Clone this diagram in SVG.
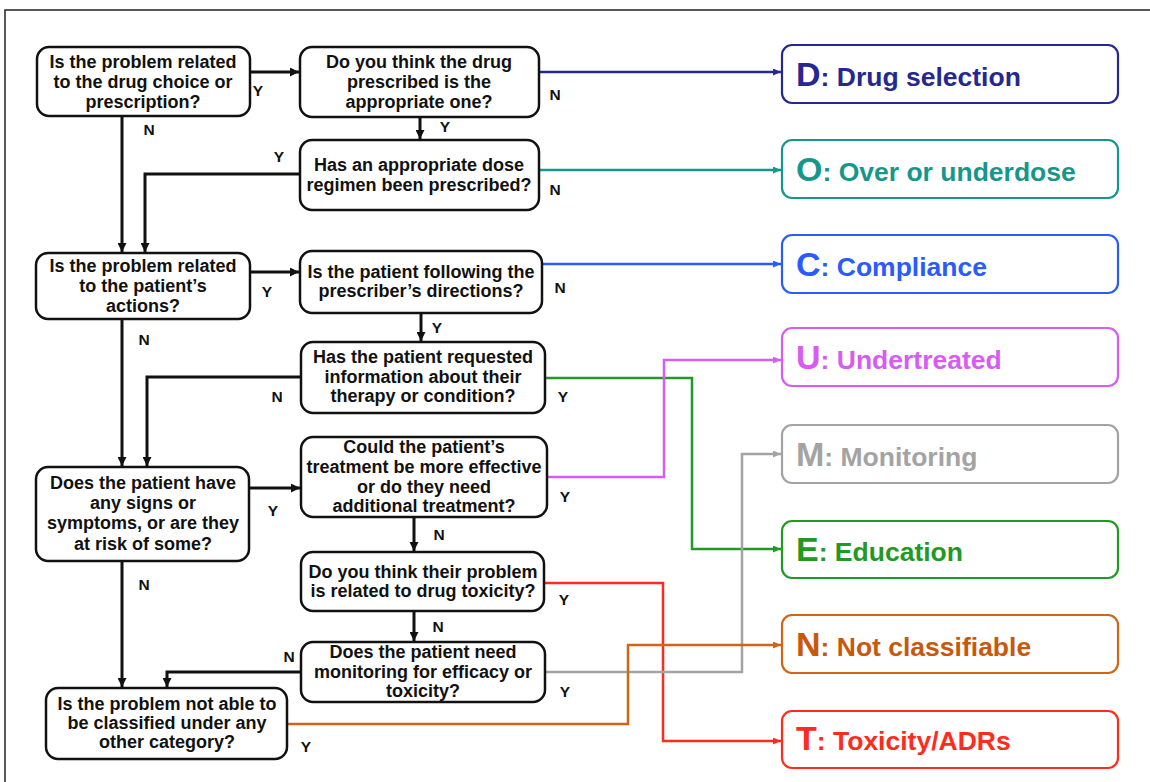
<svg xmlns="http://www.w3.org/2000/svg" width="1150" height="782" viewBox="0 0 1150 782">
<style>
.box{fill:#fff;stroke:#111;stroke-width:2.5}
.t{font-family:"Liberation Sans",Arial,sans-serif;font-weight:bold;font-size:18px;fill:#111;text-anchor:middle}
.lb{font-family:"Liberation Sans",Arial,sans-serif;font-weight:bold;font-size:15.5px;fill:#111;text-anchor:middle}
.k{fill:none;stroke:#111;stroke-width:3}
.c{fill:none;stroke-width:2.5}
.out{fill:#fff;stroke-width:2.2}
.ot{font-family:"Liberation Sans",Arial,sans-serif;font-weight:bold;font-size:26.5px}
.big{font-size:34px}
</style>
<defs>
<marker id="ak" markerUnits="userSpaceOnUse" markerWidth="9" markerHeight="9" refX="9" refY="4.5" orient="auto"><path d="M0,0 L9,4.5 L0,9 z" fill="#111"/></marker>
<marker id="aD" markerUnits="userSpaceOnUse" markerWidth="8" markerHeight="7" refX="8" refY="3.5" orient="auto"><path d="M0,0 L8,3.5 L0,7 z" fill="#25288e"/></marker>
<marker id="aO" markerUnits="userSpaceOnUse" markerWidth="8" markerHeight="7" refX="8" refY="3.5" orient="auto"><path d="M0,0 L8,3.5 L0,7 z" fill="#17968b"/></marker>
<marker id="aC" markerUnits="userSpaceOnUse" markerWidth="8" markerHeight="7" refX="8" refY="3.5" orient="auto"><path d="M0,0 L8,3.5 L0,7 z" fill="#2a5bff"/></marker>
<marker id="aU" markerUnits="userSpaceOnUse" markerWidth="8" markerHeight="7" refX="8" refY="3.5" orient="auto"><path d="M0,0 L8,3.5 L0,7 z" fill="#d65cf2"/></marker>
<marker id="aM" markerUnits="userSpaceOnUse" markerWidth="8" markerHeight="7" refX="8" refY="3.5" orient="auto"><path d="M0,0 L8,3.5 L0,7 z" fill="#a3a3a3"/></marker>
<marker id="aE" markerUnits="userSpaceOnUse" markerWidth="8" markerHeight="7" refX="8" refY="3.5" orient="auto"><path d="M0,0 L8,3.5 L0,7 z" fill="#219a24"/></marker>
<marker id="aN" markerUnits="userSpaceOnUse" markerWidth="8" markerHeight="7" refX="8" refY="3.5" orient="auto"><path d="M0,0 L8,3.5 L0,7 z" fill="#d0651a"/></marker>
<marker id="aT" markerUnits="userSpaceOnUse" markerWidth="8" markerHeight="7" refX="8" refY="3.5" orient="auto"><path d="M0,0 L8,3.5 L0,7 z" fill="#ff2b1c"/></marker>
</defs>
<rect x="0" y="0" width="1150" height="782" fill="#fff"/>
<rect x="5" y="10" width="1200" height="820" fill="none" stroke="#222" stroke-width="1.5"/>

<g id="connectors">
<path class="k" d="M250,72 H299" marker-end="url(#ak)"/>
<path class="k" d="M122,116 V252" marker-end="url(#ak)"/>
<path class="k" d="M420,117 V139" marker-end="url(#ak)"/>
<path class="k" d="M300,174 H145 V252" marker-end="url(#ak)"/>
<path class="k" d="M250,272 H299" marker-end="url(#ak)"/>
<path class="k" d="M421,313 V341" marker-end="url(#ak)"/>
<path class="k" d="M122,319 V466" marker-end="url(#ak)"/>
<path class="k" d="M301,377 H147 V466" marker-end="url(#ak)"/>
<path class="k" d="M250,488 H300" marker-end="url(#ak)"/>
<path class="k" d="M414,517 V551" marker-end="url(#ak)"/>
<path class="k" d="M122,561 V687" marker-end="url(#ak)"/>
<path class="k" d="M414,611 V641" marker-end="url(#ak)"/>
<path class="k" d="M301,672 H167 V687" marker-end="url(#ak)"/>
<path class="c" stroke="#25288e" d="M539,72 H781" marker-end="url(#aD)"/>
<path class="c" stroke="#17968b" d="M539,170 H781" marker-end="url(#aO)"/>
<path class="c" stroke="#2a5bff" d="M542,264 H781" marker-end="url(#aC)"/>
<path class="c" stroke="#219a24" d="M545,378 H692 V549 H781" marker-end="url(#aE)"/>
<path class="c" stroke="#d65cf2" d="M547,477 H664 V360 H781" marker-end="url(#aU)"/>
<path class="c" stroke="#ff2b1c" d="M544,583 H663 V741 H781" marker-end="url(#aT)"/>
<path class="c" stroke="#a3a3a3" d="M545,672 H742 V454 H781" marker-end="url(#aM)"/>
<path class="c" stroke="#d0651a" d="M287,724 H628 V645 H781" marker-end="url(#aN)"/>
</g>

<g id="labels">
<text class="lb" x="258" y="96">Y</text>
<text class="lb" x="149" y="135">N</text>
<text class="lb" x="555" y="100">N</text>
<text class="lb" x="445" y="132">Y</text>
<text class="lb" x="279" y="162">Y</text>
<text class="lb" x="555" y="195">N</text>
<text class="lb" x="267" y="297">Y</text>
<text class="lb" x="560" y="293">N</text>
<text class="lb" x="437" y="333">Y</text>
<text class="lb" x="144" y="345">N</text>
<text class="lb" x="277" y="402">N</text>
<text class="lb" x="563" y="402">Y</text>
<text class="lb" x="273" y="516">Y</text>
<text class="lb" x="565" y="502">Y</text>
<text class="lb" x="439" y="540">N</text>
<text class="lb" x="144" y="590">N</text>
<text class="lb" x="564" y="605">Y</text>
<text class="lb" x="438" y="632">N</text>
<text class="lb" x="289" y="662">N</text>
<text class="lb" x="565" y="697">Y</text>
<text class="lb" x="306" y="752">Y</text>
</g>

<g id="q-drug-choice">
<rect class="box" x="37" y="47" width="213" height="69" rx="12"/>
<text class="t" x="143" y="68">Is the problem related</text>
<text class="t" x="143" y="88">to the drug choice or</text>
<text class="t" x="143" y="108">prescription?</text>
</g>
<g id="q-drug-appropriate">
<rect class="box" x="300" y="47" width="239" height="70" rx="12"/>
<text class="t" x="419" y="68">Do you think the drug</text>
<text class="t" x="419" y="88">prescribed is the</text>
<text class="t" x="419" y="108">appropriate one?</text>
</g>
<g id="q-dose">
<rect class="box" x="300" y="140" width="239" height="70" rx="12"/>
<text class="t" x="419" y="171">Has an appropriate dose</text>
<text class="t" x="419" y="191">regimen been prescribed?</text>
</g>
<g id="q-patient-actions">
<rect class="box" x="36" y="253" width="214" height="66" rx="12"/>
<text class="t" x="143" y="272">Is the problem related</text>
<text class="t" x="143" y="292">to the patient’s</text>
<text class="t" x="143" y="312">actions?</text>
</g>
<g id="q-following">
<rect class="box" x="300" y="251" width="242" height="62" rx="12"/>
<text class="t" x="421" y="278">Is the patient following the</text>
<text class="t" x="421" y="297">prescriber’s directions?</text>
</g>
<g id="q-information">
<rect class="box" x="301" y="342" width="244" height="71" rx="12"/>
<text class="t" x="423" y="363">Has the patient requested</text>
<text class="t" x="423" y="383">information about their</text>
<text class="t" x="423" y="402">therapy or condition?</text>
</g>
<g id="q-symptoms">
<rect class="box" x="36" y="467" width="213" height="94" rx="12"/>
<text class="t" x="143" y="489">Does the patient have</text>
<text class="t" x="143" y="509">any signs or</text>
<text class="t" x="143" y="529">symptoms, or are they</text>
<text class="t" x="143" y="550">at risk of some?</text>
</g>
<g id="q-effective">
<rect class="box" x="301" y="437" width="246" height="80" rx="12"/>
<text class="t" x="424" y="453">Could the patient’s</text>
<text class="t" x="424" y="473">treatment be more effective</text>
<text class="t" x="424" y="493">or do they need</text>
<text class="t" x="424" y="512">additional treatment?</text>
</g>
<g id="q-toxicity">
<rect class="box" x="301" y="552" width="243" height="59" rx="12"/>
<text class="t" x="423" y="578">Do you think their problem</text>
<text class="t" x="423" y="597">is related to drug toxicity?</text>
</g>
<g id="q-monitoring">
<rect class="box" x="301" y="642" width="244" height="60" rx="12"/>
<text class="t" x="423" y="658">Does the patient need</text>
<text class="t" x="423" y="678">monitoring for efficacy or</text>
<text class="t" x="423" y="697">toxicity?</text>
</g>
<g id="q-not-classified">
<rect class="box" x="46" y="688" width="241" height="71" rx="12"/>
<text class="t" x="167" y="710">Is the problem not able to</text>
<text class="t" x="167" y="729">be classified under any</text>
<text class="t" x="167" y="748">other category?</text>
</g>

<g id="out-D">
<rect class="out" stroke="#25288e" x="782" y="45" width="336" height="58" rx="10"/>
<text class="ot" x="796" y="86" fill="#25288e"><tspan class="big">D</tspan>: Drug selection</text>
</g>
<g id="out-O">
<rect class="out" stroke="#17968b" x="782" y="140" width="336" height="58" rx="10"/>
<text class="ot" x="796" y="181" fill="#17968b"><tspan class="big">O</tspan>: Over or underdose</text>
</g>
<g id="out-C">
<rect class="out" stroke="#2a5bff" x="782" y="235" width="336" height="58" rx="10"/>
<text class="ot" x="796" y="276" fill="#2a5bff"><tspan class="big">C</tspan>: Compliance</text>
</g>
<g id="out-U">
<rect class="out" stroke="#d65cf2" x="782" y="328" width="336" height="58" rx="10"/>
<text class="ot" x="796" y="369" fill="#d65cf2"><tspan class="big">U</tspan>: Undertreated</text>
</g>
<g id="out-M">
<rect class="out" stroke="#a3a3a3" x="782" y="425" width="336" height="58" rx="10"/>
<text class="ot" x="796" y="466" fill="#a3a3a3"><tspan class="big">M</tspan>: Monitoring</text>
</g>
<g id="out-E">
<rect class="out" stroke="#219a24" x="782" y="521" width="336" height="57" rx="10"/>
<text class="ot" x="796" y="561" fill="#219a24"><tspan class="big">E</tspan>: Education</text>
</g>
<g id="out-N">
<rect class="out" stroke="#d0651a" x="782" y="615" width="336" height="58" rx="10"/>
<text class="ot" x="796" y="656" fill="#c8590c"><tspan class="big">N</tspan>: Not classifiable</text>
</g>
<g id="out-T">
<rect class="out" stroke="#ff2b1c" x="782" y="711" width="336" height="57" rx="10"/>
<text class="ot" x="796" y="750" fill="#ff2b1c"><tspan class="big">T</tspan>: Toxicity/ADRs</text>
</g>
</svg>
